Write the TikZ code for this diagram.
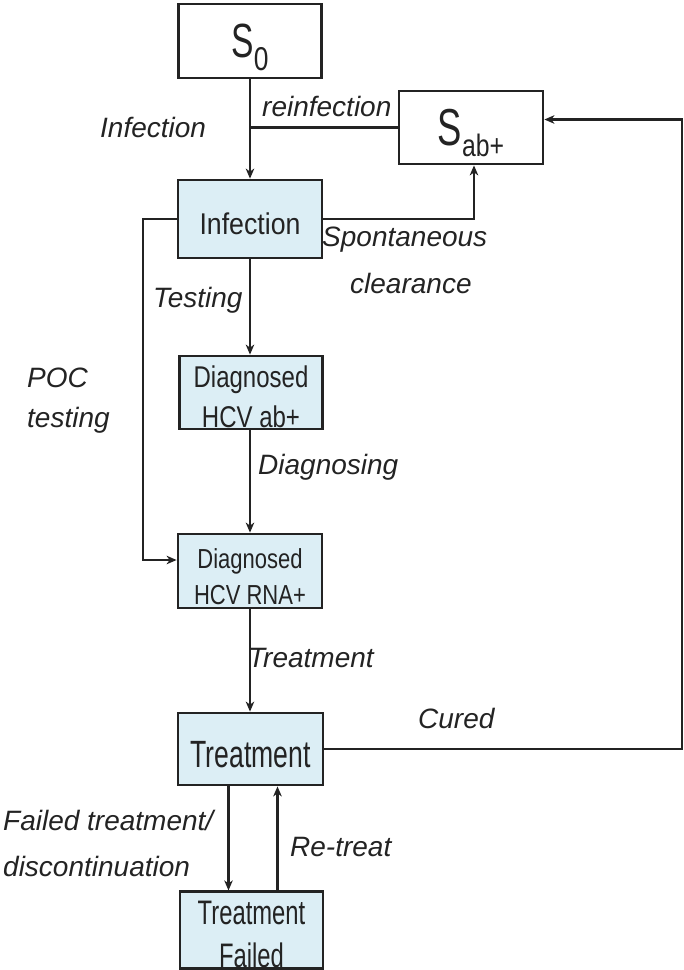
\documentclass[tikz,border=0pt]{standalone}
\usepackage{fontspec}
\setmainfont{Liberation Sans}
\newfontfamily\fA[FakeStretch=0.89]{Liberation Sans}
\newfontfamily\fB[FakeStretch=0.8]{Liberation Sans}
\newfontfamily\fC[FakeStretch=0.7]{Liberation Sans}
\usetikzlibrary{arrows.meta}
\definecolor{boxfill}{RGB}{220,238,245}
\definecolor{ink}{RGB}{35,35,35}
\newcommand{\myheight}[1]{\rule{0pt}{#1}}
\tikzset{
  state/.style={draw=ink, line width=2.8pt, inner sep=0pt, text=ink, align=center,
    font=\fB\fontsize{30}{40}\selectfont, minimum width=144pt, minimum height=73pt},
  filled/.style={state, fill=boxfill},
  lbl/.style={font=\fontsize{28}{40}\selectfont\itshape, text=ink, inner sep=0pt, anchor=west, align=left},
  conn/.style={draw=ink, line width=2.2pt},
  arr/.style={conn, -{Stealth[length=10pt,width=8.5pt,inset=3pt]}}
}
\begin{document}
\begin{tikzpicture}[x=1pt,y=-1pt]
\useasboundingbox (0,0) rectangle (684,970);
% states
\node[state, minimum width=143pt, minimum height=74pt] (S0) at (250,41) {{\fC\fontsize{48}{48}\selectfont S}\raisebox{-13pt}[0pt][0pt]{\fB\fontsize{33}{33}\selectfont 0}};
\node[state] (Sab) at (471,127.5) {{\fC\fontsize{52}{52}\selectfont S}\raisebox{-11pt}[0pt][0pt]{\fB\fontsize{31}{31}\selectfont ab+}};
\node[filled, minimum height=78pt, font=\fA\fontsize{30}{40}\selectfont] (Inf) at (250,219) {\myheight{32pt}Infection};
\node[filled, minimum width=143pt] (Dab) at (251,392.5) {\myheight{31pt}Diagnosed\\HCV ab+};
\node[filled, minimum height=74pt, font=\fB\fontsize{27.5}{36}\selectfont] (RNA) at (250,571) {\myheight{31pt}Diagnosed\\HCV RNA+};
\node[filled, minimum width=145pt, minimum height=72pt, font=\fC\fontsize{38}{40}\selectfont] (Treat) at (250.5,749) {\myheight{38pt}Treatment};
\node[filled, minimum width=143pt, minimum height=74pt, font=\fC\fontsize{34}{43}\selectfont] (Fail) at (251.5,930) {\myheight{33pt}Treatment\\Failed};
\coordinate (poc) at (143,0);
\coordinate (cr) at (682,0);
% connectors
\draw[arr] (S0.south) -- (Inf.north);
\draw[conn] (Sab.west) -- (Sab.west -| S0.south);
\draw[arr] (Inf.east) -| ([xshift=3pt]Sab.south);
\draw[arr] (Inf.south) -- (Inf.south |- Dab.north);
\draw[arr] (Dab.south -| Inf.south) -- (Inf.south |- RNA.north);
\draw[arr] (Inf.west) -- (Inf.west -| poc) |- ([yshift=11pt]RNA.west);
\draw[arr] (RNA.south) -- (RNA.south |- Treat.north);
\draw[arr] (Treat.east) -- (Treat.east -| cr) |- ([yshift=8pt]Sab.east);
\draw[arr] ([xshift=-22pt]Treat.south) -- ([xshift=-22pt]Treat.south |- Fail.north);
\draw[arr] ([xshift=26pt]Fail.north) -- ([xshift=26pt]Fail.north |- Treat.south);
% labels
\node[lbl] (lInf) at (100,127) {Infection};
\node[lbl] (lre) at (262,106) {reinfection};
\node[lbl] (lsp) at (322,240) {Spontaneous};
\node[lbl] (lcl) at (350,283) {clearance};
\node[lbl] (lte) at (153,300) {Testing};
\node[lbl] (lpoc) at (27,401) {POC\\testing};
\node[lbl] (ldi) at (258,467) {Diagnosing};
\node[lbl] (ltr) at (248,658) {Treatment};
\node[lbl] (lcu) at (418,718) {Cured};
\node[lbl, font=\fontsize{28}{46}\selectfont\itshape] (lfa) at (3,843) {Failed treatment/\\discontinuation};
\node[lbl] (lrt) at (290,847) {Re-treat};
\end{tikzpicture}
\end{document}
